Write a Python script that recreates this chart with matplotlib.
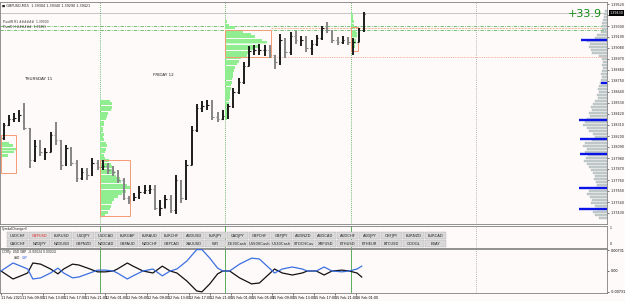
import numpy as np
import matplotlib
matplotlib.use("Agg")
import matplotlib.pyplot as plt
from matplotlib.patches import Rectangle

# GBPUSD M15 screen, drawn as hourly bars (hour 0 = 11 Feb 05:00, weekend skipped)
first_open = 1.3818
closes = [1.3831, 1.3837, 1.3838, 1.3841, 1.3828, 1.3796, 1.3810, 1.3804, 1.3804, 1.3821,
          1.3816, 1.3791, 1.3808, 1.3793, 1.3778, 1.3784, 1.3781, 1.3793, 1.3789, 1.3790,
          1.3786, 1.3784, 1.3776, 1.3758, 1.3756, 1.3759, 1.3764, 1.3766, 1.3767, 1.3748,
          1.3748, 1.3757, 1.3746, 1.3776, 1.3758, 1.3791, 1.3826, 1.3848, 1.3850, 1.3851,
          1.3839, 1.3837, 1.3840, 1.3850, 1.3864, 1.3874, 1.3890, 1.3905, 1.3906, 1.3906,
          1.3906, 1.3901, 1.3894, 1.3916, 1.3904, 1.3920, 1.3916, 1.3916, 1.3908, 1.3912,
          1.3918, 1.3928, 1.3926, 1.3916, 1.3914, 1.3916, 1.3914, 1.3914, 1.3926, 1.3942]
highs = [1.3833, 1.3841, 1.3843, 1.3846, 1.3853, 1.3828, 1.3816, 1.3816, 1.3808, 1.3824,
         1.3834, 1.3816, 1.3811, 1.3809, 1.3796, 1.3788, 1.3788, 1.3798, 1.3796, 1.3796,
         1.3793, 1.3790, 1.3786, 1.3778, 1.3760, 1.3763, 1.3770, 1.3771, 1.3771, 1.3771,
         1.3756, 1.3761, 1.3761, 1.3781, 1.3776, 1.3796, 1.3830, 1.3852, 1.3855, 1.3856,
         1.3856, 1.3844, 1.3846, 1.3852, 1.3868, 1.3878, 1.3894, 1.3910, 1.3911, 1.3912,
         1.3911, 1.3911, 1.3901, 1.3922, 1.3918, 1.3924, 1.3925, 1.3920, 1.3920, 1.3916,
         1.3921, 1.3930, 1.3934, 1.3926, 1.3919, 1.3920, 1.3919, 1.3918, 1.3928, 1.3944]
lows = [1.3816, 1.3830, 1.3834, 1.3834, 1.3826, 1.3788, 1.3794, 1.3800, 1.3796, 1.3804,
        1.3811, 1.3786, 1.3790, 1.3790, 1.3774, 1.3776, 1.3776, 1.3780, 1.3786, 1.3786,
        1.3782, 1.3780, 1.3773, 1.3756, 1.3752, 1.3755, 1.3757, 1.3762, 1.3762, 1.3746,
        1.3740, 1.3748, 1.3743, 1.3742, 1.3753, 1.3756, 1.3791, 1.3824, 1.3844, 1.3846,
        1.3836, 1.3834, 1.3836, 1.3837, 1.3848, 1.3862, 1.3872, 1.3890, 1.3901, 1.3901,
        1.3900, 1.3898, 1.3887, 1.3891, 1.3898, 1.3901, 1.3912, 1.3910, 1.3904, 1.3901,
        1.3910, 1.3916, 1.3923, 1.3913, 1.3911, 1.3912, 1.3911, 1.3901, 1.3914, 1.3924]

price_ticks = [1.3952, 1.3941, 1.3930, 1.3919, 1.3908, 1.3897, 1.3886, 1.3875, 1.3864, 1.3853,
               1.3842, 1.3831, 1.3820, 1.3809, 1.3798, 1.3787, 1.3776, 1.3765, 1.3754, 1.3743]
bid = 1.3943
profit_text = "+33.9"
chart_title = "GBPUSD,M15  1.39304 1.39340 1.39290 1.39421"

day_starts = [19, 43, 67]  # 12 Feb, 15 Feb, 16 Feb 00:00
future_day = 91
day_labels = ["THURSDAY 11", "FRIDAY 12"]

time_ticks = list(range(0, 69, 4))
time_labels = ["11 Feb 2021", "11 Feb 09:00", "11 Feb 13:00", "11 Feb 17:00", "11 Feb 21:00",
               "12 Feb 01:00", "12 Feb 05:00", "12 Feb 09:00", "12 Feb 13:00", "12 Feb 17:00",
               "12 Feb 21:00", "15 Feb 01:00", "15 Feb 05:00", "15 Feb 09:00", "15 Feb 13:00",
               "15 Feb 17:00", "15 Feb 21:00", "16 Feb 01:00"]

# session volume profiles (volume per price level)
session_starts = [0, 19, 43, 67]
thu_levels = [1.3813, 1.3810, 1.3807, 1.3804, 1.3801]
thu_vol = [8, 12, 15, 13, 7]
fri_levels = np.linspace(1.3855, 1.3741, 39)
fri_vol = [10, 12, 12, 11, 8, 7, 6, 4, 4, 3, 3, 4, 3, 4, 6, 7, 6, 5, 4, 5,
           9, 11, 12, 14, 15, 16, 20, 21, 27, 30, 26, 22, 18, 14, 12, 11, 10, 8, 5]
mon_levels = np.linspace(1.3934, 1.3838, 33)
mon_vol = [2, 4, 10, 18, 26, 30, 37, 42, 34, 30, 25, 22, 16, 14, 12, 10, 9, 8, 8, 7,
           7, 6, 6, 5, 5, 5, 4, 4, 4, 3, 4, 3, 2]
tue_levels = np.linspace(1.3943, 1.3907, 13)
tue_vol = [1, 2, 2, 3, 3, 4, 5, 6, 6, 5, 5, 4, 3]
va_high = [1.3821, 1.3796, 1.3926, 1.3929]
va_low = [1.3783, 1.3740, 1.3899, 1.3905]
poc = [1.3806, 1.3767, 1.3913, 1.3919]
va_width = [15, 30, 46, 7]

# whole-range profile on the right edge
right_levels = np.linspace(1.3945, 1.3738, 70)
right_vol = [2, 3, 3, 4, 5, 5, 5, 6, 10, 12, 20, 17, 18, 16, 15, 8, 5, 4, 5, 4,
             5, 6, 5, 6, 7, 8, 9, 8, 10, 9, 12, 14, 16, 15, 18, 17, 20, 22, 24, 20,
             18, 14, 12, 15, 22, 24, 20, 22, 19, 21, 23, 20, 18, 16, 14, 12, 13, 11, 10, 12,
             18, 20, 17, 15, 16, 12, 10, 14, 12, 8]
hv_levels = [1.3916, 1.3873, 1.3836, 1.3817, 1.3802, 1.3768, 1.3747]
hv_vol = [26, 6, 28, 27, 27, 28, 28]

# currency strength sub-window
ind_hours = [0, 2.3, 3.8, 5.1, 6.1, 7.6, 9.5, 10.9, 12.0, 13.7, 14.9, 16.6, 18.5, 20.0, 21.5,
             22.3, 24.2, 25.3, 27.2, 29.1, 30.9, 32.4, 33.7, 35.6, 37.5, 38.5, 40.0, 41.5, 42.5,
             43.8, 45.7, 48.0, 49.5, 51.4, 52.4, 53.9, 55.8, 57.7, 58.7, 60.4, 61.9, 63.4, 65.3,
             66.7, 68.2, 69.1]
usd = [0.0, -0.0028, -0.0017, -0.0007, 0.0028, 0.0024, 0.0007, -0.0010, 0.0007, 0.0024,
       0.0021, 0.0010, -0.0003, -0.0003, 0.0, 0.0007, 0.0028, 0.0017, 0.0, -0.0007,
       0.0017, 0.0, -0.0007, -0.0035, -0.0070, -0.0073, -0.0045, -0.0010, 0.0, 0.0,
       -0.0024, -0.0045, -0.0042, -0.0010, 0.0007, -0.0007, -0.0014, -0.0007, 0.0, 0.0,
       -0.0014, 0.0, 0.0003, 0.0, -0.0007, -0.0021]
gbp = [0.0, 0.0028, 0.0017, 0.0007, -0.0028, -0.0024, -0.0007, 0.0010, -0.0007, -0.0024,
       -0.0021, -0.0010, 0.0003, 0.0003, 0.0, -0.0007, -0.0028, -0.0017, 0.0, 0.0007,
       -0.0017, 0.0, 0.0007, 0.0035, 0.0075, 0.0075, 0.0045, 0.0010, 0.0, 0.0,
       0.0024, 0.0045, 0.0042, 0.0010, -0.0007, 0.0007, 0.0014, 0.0007, 0.0, 0.0,
       0.0014, 0.0, -0.0003, 0.0, 0.0007, 0.0017]

row1 = ["USDCHF", "GBPUSD", "EURUSD", "USDJPY", "USDCAD", "EURGBP", "EURAUD", "EURCHF",
        "AUDUSD", "EURJPY", "CADJPY", "GBPCHF", "GBPJPY", "AUDNZD", "AUDCAD", "AUDCHF",
        "AUDJPY", "CHFJPY", "EURNZD", "EURCAD"]
row2 = ["CADCHF", "NZDJPY", "NZDUSD", "GBPNZD", "NZDCAD", "GBPAUD", "NZDCHF", "GBPCAD",
        "XAUUSD", "WTI", "DE30Cash", "US500Cash", "US30Cash", "STOCHCas", "XRPUSD", "ETHUSD",
        "ETHEUR", "BTCUSD", "GOOGL", "EBAY"]

# --- layout / style ---
W, H = 625, 301
PX_PER_HOUR = 5.22
BG = "#fffafa"
ORANGE = "#f39b74"
GREEN_PROF = "#90ee90"
DAY_GREEN = "#3fa03f"
FRAME = "#808080"


def px_box(x0, y0, x1, y1):
    return [x0 / W, 1 - y1 / H, (x1 - x0) / W, (y1 - y0) / H]


fig = plt.figure(figsize=(W / 100, H / 100), dpi=100, facecolor=BG)

# ---------------- main price window ----------------
ax = fig.add_axes(px_box(0, 2, 607, 224), facecolor=BG)
x_lo, x_hi = -1 / PX_PER_HOUR, 606 / PX_PER_HOUR
ax.set_xlim(x_lo, x_hi)
ax.set_ylim(1.3732, 1.3954)
for s in ax.spines.values():
    s.set_color(FRAME)
    s.set_linewidth(0.6)
ax.set_xticks([])
ax.yaxis.tick_right()
ax.set_yticks(price_ticks)
ax.set_yticklabels([f"{p:.5f}" for p in price_ticks])
ax.tick_params(axis="y", labelsize=2.4, length=1.5, width=0.4, pad=1, colors="#202020")

# horizontal levels
ax.axhline(bid, color="#bdbdbd", lw=0.6, zorder=1)
for lvl in [1.3930, 1.39265]:
    ax.axhline(lvl, color="#5cb85c", lw=0.6, ls=(0, (4, 1.5, 1, 1.5)), zorder=1)

# vertical day separators
for d in day_starts:
    ax.axvline(d, color=DAY_GREEN, lw=0.6, ls=(0, (1, 1.5)), zorder=1)
ax.axvline(future_day, color="#a0a0a0", lw=0.6, ls=(0, (1, 1.5)), zorder=1)

# session profiles + value areas
profiles = [(thu_levels, thu_vol), (fri_levels, fri_vol), (mon_levels, mon_vol), (tue_levels, tue_vol)]
for i, (lv, vol) in enumerate(profiles):
    start = session_starts[i]
    vol = np.array(vol) / PX_PER_HOUR
    ax.barh(lv, vol, height=0.0003, left=start, color=GREEN_PROF, edgecolor="none", zorder=2)
    ax.hlines(poc[i], start, start + vol.max(), color="white", lw=0.5, alpha=0.8, zorder=2)
    ax.add_patch(Rectangle((start, va_low[i]), va_width[i] / PX_PER_HOUR, va_high[i] - va_low[i],
                           fill=False, ec=ORANGE, lw=0.7, zorder=2))

mon_end = session_starts[2] + va_width[2] / PX_PER_HOUR
ax.hlines(va_low[2], mon_end, x_hi, color=ORANGE, lw=0.6, ls=(0, (1, 1.2)), zorder=1)
ax.hlines(1.3928, mon_end, x_hi, color=ORANGE, lw=0.5, ls=(0, (3, 1.5)), zorder=1)

# right edge profile
rv = np.array(right_vol) / PX_PER_HOUR
ax.barh(right_levels, rv, height=0.00024, left=x_hi - rv, color="#c6cece",
        edgecolor="#9aa6a6", linewidth=0.2, zorder=2)
for p, v in zip(hv_levels, hv_vol):
    ax.hlines(p, x_hi - v / PX_PER_HOUR, x_hi, color="#0a14e6", lw=1.7, zorder=4)

# price bars
opens = [first_open] + closes[:-1]
for h, (o, hi, lo, c) in enumerate(zip(opens, highs, lows, closes)):
    col = "#1c1c1c" if c >= o else "#858585"
    x = h + 0.5
    ax.vlines(x, lo, hi, color=col, lw=1.4, zorder=3)
    ax.hlines(o, x - 0.3, x, color=col, lw=0.8, zorder=3)
    ax.hlines(c, x, x + 0.3, color=col, lw=0.8, zorder=3)

# texts
ax.text(0.004, 0.993, "\u25a0 " + chart_title, transform=ax.transAxes, fontsize=2.4,
        va="top", ha="left", color="#202020")
ax.text(0.3, 1.3932, "PivotW R1 ######  1.39300", fontsize=2.2, color="#303030", va="bottom")
ax.text(0.3, 1.39275, "PivotD H ######  1.39265", fontsize=2.2, color="#303030", va="bottom")
ax.text(7.2, 1.3877, day_labels[0], fontsize=3, ha="center", va="center", color="#202020")
ax.text(31.2, 1.3881, day_labels[1], fontsize=3, ha="center", va="center", color="#202020")
ax.text(0.992, 0.946, profit_text, transform=ax.transAxes, fontsize=8, color="#138a13",
        ha="right", va="center", zorder=7)
ax.text(1.004, bid, f"{bid:.5f}", transform=ax.get_yaxis_transform(), fontsize=2.4,
        color="white", va="center", ha="left", zorder=6,
        bbox=dict(boxstyle="square,pad=0.25", fc="black", ec="none"), clip_on=False)

# ---------------- symbol changer window ----------------
axb = fig.add_axes(px_box(0, 226, 607, 248), facecolor=BG)
axb.set_xlim(0, 607)
axb.set_ylim(22, 0)
axb.set_xticks([])
axb.set_yticks([])
for s in axb.spines.values():
    s.set_color(FRAME)
    s.set_linewidth(0.6)
for d in day_starts:
    axb.axvline(1 + d * PX_PER_HOUR, color=DAY_GREEN, lw=0.6, zorder=0)
axb.axvline(1 + future_day * PX_PER_HOUR, color="#a0a0a0", lw=0.6, ls=(0, (1, 1.5)), zorder=0)
axb.text(2, 1.2, "SymbolChanger()", fontsize=2.2, va="top", ha="left", color="#202020")
for r, (row, y0) in enumerate([(row1, 5.8), (row2, 14.3)]):
    for i, name in enumerate(row):
        x0 = 7 + 22 * i
        axb.add_patch(Rectangle((x0, y0), 21.3, 7.2, fc="#d9d9d9", ec="#b0b0b0", lw=0.3, zorder=2))
        col = "#e02020" if name == "GBPUSD" else "#202020"
        axb.text(x0 + 10.65, y0 + 3.8, name, fontsize=2.7, ha="center", va="center",
                 color=col, zorder=3)
axb.text(1.005, 0.93, "1", transform=axb.transAxes, fontsize=2.2, va="center", ha="left")
axb.text(1.005, 0.2, "0", transform=axb.transAxes, fontsize=2.2, va="center", ha="left")

# ---------------- indicator window ----------------
axi = fig.add_axes(px_box(0, 249, 607, 293), facecolor=BG)
axi.set_xlim(x_lo, x_hi)
axi.set_ylim(-0.0077, 0.0077)
for s in axi.spines.values():
    s.set_color(FRAME)
    s.set_linewidth(0.6)
for d in day_starts:
    axi.axvline(d, color=DAY_GREEN, lw=0.6, zorder=1)
axi.axvline(future_day, color="#a0a0a0", lw=0.6, ls=(0, (1, 1.5)), zorder=1)
axi.plot(ind_hours, usd, color="#111111", lw=0.9, zorder=3)
axi.plot(ind_hours, gbp, color="#3b6fe0", lw=0.9, zorder=3)
axi.yaxis.tick_right()
axi.set_yticks([0.00731, 0.0, -0.00731])
axi.set_yticklabels(["0.00731", "0.00", "-0.00731"])
axi.tick_params(axis="y", labelsize=2.4, length=1.5, width=0.4, pad=1)
axi.set_xticks(time_ticks)
axi.set_xticklabels(time_labels)
axi.tick_params(axis="x", labelsize=2.4, length=1.5, width=0.4, pad=1)
for lab in axi.get_xticklabels():
    lab.set_horizontalalignment("left")
axi.text(0.004, 0.97, "CCRTy  USD GBP  -0.00024 0.00024", transform=axi.transAxes,
         fontsize=2.2, va="top", ha="left", color="#202020")
axi.text(0.022, 0.8, "USD", transform=axi.transAxes, fontsize=2.2, va="center", color="#111111")
axi.text(0.036, 0.8, "GBP", transform=axi.transAxes, fontsize=2.2, va="center", color="#3b6fe0")

fig.savefig("out.png", dpi=100, facecolor=BG)
